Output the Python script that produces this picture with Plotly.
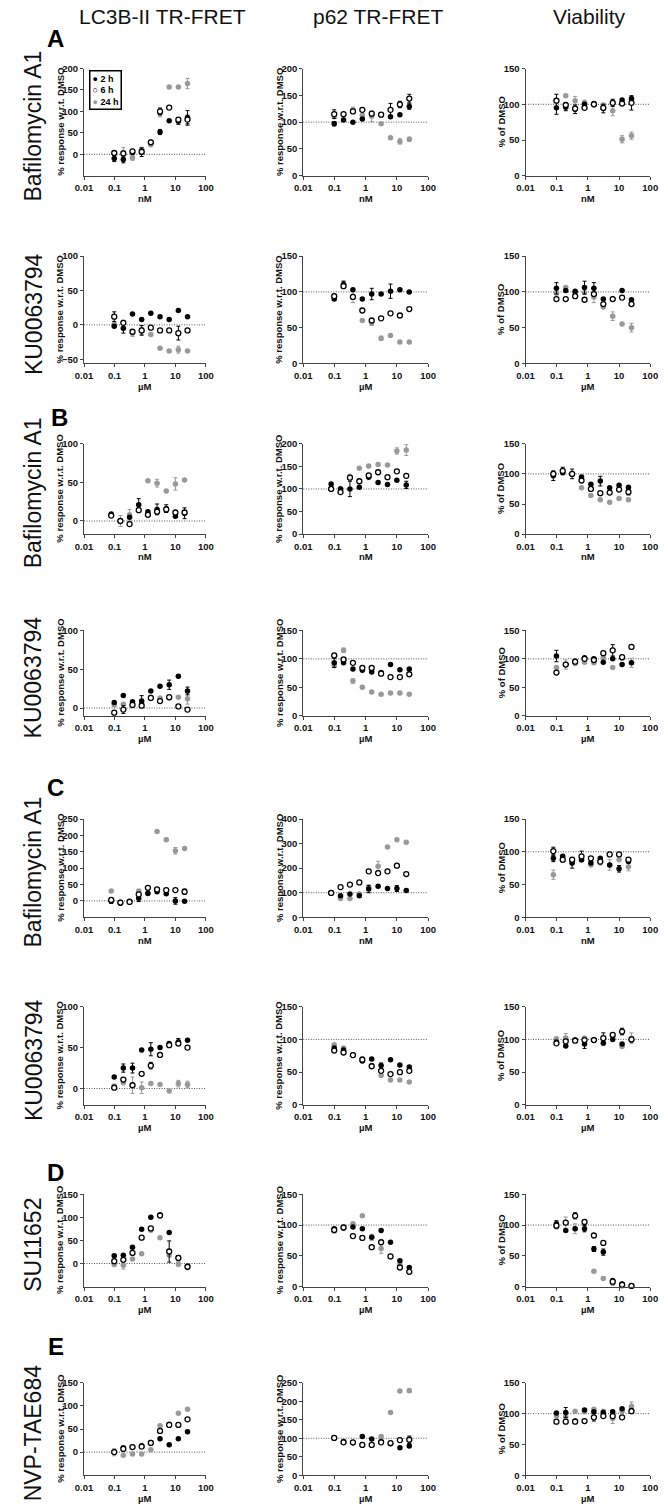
import plotly.graph_objects as go

W, H = 668, 1507

# ---------------- data ----------------
conc_baf_A = [0.098, 0.195, 0.39, 0.78, 1.56, 3.125, 6.25, 12.5, 25]
conc_baf_BC = [0.078, 0.156, 0.3125, 0.625, 1.25, 2.5, 5, 10, 20]
conc_um = [0.098, 0.195, 0.39, 0.78, 1.56, 3.125, 6.25, 12.5, 25]

x_ticks = [0.01, 0.1, 1, 10, 100]
x_tick_labels = ["0.01", "0.1", "1", "10", "100"]

column_titles = ["LC3B-II TR-FRET", "p62 TR-FRET", "Viability"]
row_compounds = ["Bafilomycin A1", "KU0063794", "Bafilomycin A1", "KU0063794",
                 "Bafilomycin A1", "KU0063794", "SU11652", "NVP-TAE684"]
row_units = ["nM", "µM", "nM", "µM", "nM", "µM", "µM", "µM"]
panel_letters = ["A", "B", "C", "D", "E"]
series_names = ["2 h", "6 h", "24 h"]

# Row A - Bafilomycin A1
A_baf_lc3_2h = [-10, -12, 4, 5, 28, 52, 78, 77, 85]
A_baf_lc3_6h = [3, 2, 7, 6, 28, 100, 109, 81, 81]
A_baf_lc3_24h = [3, 4, -8, 12, 22, 95, 157, 157, 165]
A_baf_lc3_2h_err = [7, 8, 0, 10, 0, 6, 0, 7, 17]
A_baf_lc3_6h_err = [0, 0, 0, 0, 0, 8, 0, 0, 10]
A_baf_lc3_24h_err = [0, 12, 6, 0, 0, 8, 0, 0, 12]
A_baf_p62_2h = [97, 104, 100, 106, 115, 114, 110, 114, 129]
A_baf_p62_6h = [115, 115, 120, 123, 116, 114, 123, 133, 144]
A_baf_p62_24h = [110, 113, 123, 113, 111, 97, 71, 64, 68]
A_baf_p62_2h_err = [4, 0, 0, 0, 0, 0, 0, 0, 5]
A_baf_p62_6h_err = [8, 0, 0, 0, 0, 0, 12, 6, 8]
A_baf_p62_24h_err = [0, 0, 5, 0, 10, 0, 0, 5, 4]
A_baf_via_2h = [95, 96, 93, 100, 101, 94, 102, 106, 108]
A_baf_via_6h = [105, 99, 94, 95, 100, 95, 102, 101, 102]
A_baf_via_24h = [105, 112, 105, 103, 99, 99, 91, 51, 56]
A_baf_via_2h_err = [9, 5, 6, 0, 0, 6, 5, 0, 0]
A_baf_via_6h_err = [9, 0, 0, 0, 0, 0, 0, 0, 10]
A_baf_via_24h_err = [0, 0, 6, 0, 0, 0, 7, 5, 5]

# Row A - KU0063794
A_ku_lc3_2h = [-2, -5, 16, 8, 17, 12, 8, 21, 12]
A_ku_lc3_6h = [12, 3, -10, -8, -4, -8, -8, -12, -8]
A_ku_lc3_24h = [1, 4, -12, -9, -14, -34, -38, -36, -38]
A_ku_lc3_2h_err = [0, 7, 0, 0, 0, 0, 0, 0, 0]
A_ku_lc3_6h_err = [7, 0, 0, 7, 0, 0, 0, 10, 0]
A_ku_lc3_24h_err = [0, 0, 5, 5, 0, 0, 0, 5, 0]
A_ku_p62_2h = [90, 110, 103, 90, 97, 97, 101, 103, 100]
A_ku_p62_6h = [94, 108, 93, 74, 60, 63, 70, 67, 76]
A_ku_p62_24h = [94, 112, 93, 60, 57, 35, 39, 30, 30]
A_ku_p62_2h_err = [0, 5, 0, 0, 8, 0, 10, 0, 0]
A_ku_p62_6h_err = [0, 0, 0, 0, 0, 0, 0, 0, 0]
A_ku_p62_24h_err = [0, 0, 8, 0, 4, 3, 0, 0, 0]
A_ku_via_2h = [105, 102, 101, 106, 105, 90, 90, 102, 89]
A_ku_via_6h = [90, 90, 94, 89, 97, 83, 90, 92, 83]
A_ku_via_24h = [98, 106, 99, 99, 93, 79, 66, 55, 50]
A_ku_via_2h_err = [8, 0, 0, 9, 8, 0, 0, 0, 0]
A_ku_via_6h_err = [0, 0, 0, 0, 0, 0, 0, 0, 0]
A_ku_via_24h_err = [0, 0, 0, 0, 8, 0, 6, 0, 6]

# Row B - Bafilomycin A1
B_baf_lc3_2h = [9, 0, 5, 21, 12, 15, 16, 6, 10]
B_baf_lc3_6h = [7, 0, -4, 14, 8, 12, 15, 11, 11]
B_baf_lc3_24h = [8, 0, 8, 15, 52, 49, 39, 48, 53]
B_baf_lc3_2h_err = [0, 0, 0, 8, 0, 7, 5, 0, 7]
B_baf_lc3_6h_err = [0, 0, 0, 0, 0, 0, 0, 0, 0]
B_baf_lc3_24h_err = [0, 7, 7, 0, 0, 5, 0, 8, 0]
B_baf_p62_2h = [111, 100, 100, 104, 126, 114, 110, 119, 109]
B_baf_p62_6h = [100, 93, 125, 117, 130, 137, 126, 139, 129]
B_baf_p62_24h = [100, 101, 128, 146, 151, 154, 153, 184, 186]
B_baf_p62_2h_err = [0, 0, 17, 0, 0, 0, 0, 0, 8]
B_baf_p62_6h_err = [0, 0, 0, 0, 0, 0, 0, 0, 0]
B_baf_p62_24h_err = [0, 0, 0, 0, 0, 0, 0, 7, 12]
B_baf_via_2h = [97, 103, 100, 95, 83, 88, 77, 81, 78]
B_baf_via_6h = [100, 105, 100, 89, 75, 68, 69, 74, 70]
B_baf_via_24h = [101, 101, 99, 77, 64, 57, 53, 59, 57]
B_baf_via_2h_err = [8, 0, 8, 0, 0, 8, 0, 0, 0]
B_baf_via_6h_err = [0, 6, 0, 0, 0, 0, 0, 0, 5]
B_baf_via_24h_err = [0, 0, 0, 0, 0, 0, 0, 0, 0]

# Row B - KU0063794
B_ku_lc3_2h = [7, 16, 8, 9, 22, 28, 30, 41, 22]
B_ku_lc3_6h = [-6, -2, 4, 3, 13, 9, 14, 2, -2]
B_ku_lc3_24h = [4, 5, 5, 6, 14, 13, 13, 14, 12]
B_ku_lc3_2h_err = [0, 0, 0, 7, 0, 0, 6, 0, 5]
B_ku_lc3_6h_err = [0, 5, 0, 0, 0, 0, 0, 0, 0]
B_ku_lc3_24h_err = [0, 0, 0, 0, 0, 0, 0, 0, 7]
B_ku_p62_2h = [93, 93, 82, 80, 77, 76, 90, 81, 82]
B_ku_p62_6h = [106, 99, 93, 84, 84, 74, 68, 68, 73]
B_ku_p62_24h = [88, 115, 61, 50, 42, 38, 40, 40, 38]
B_ku_p62_2h_err = [8, 0, 0, 0, 0, 0, 0, 0, 0]
B_ku_p62_6h_err = [0, 0, 0, 0, 0, 0, 0, 0, 0]
B_ku_p62_24h_err = [0, 4, 4, 0, 0, 0, 0, 0, 0]
B_ku_via_2h = [105, 90, 96, 102, 100, 94, 100, 90, 93]
B_ku_via_6h = [76, 90, 95, 100, 98, 110, 115, 103, 121]
B_ku_via_24h = [85, 90, 92, 94, 93, 102, 85, 101, 93]
B_ku_via_2h_err = [10, 0, 0, 0, 0, 0, 0, 0, 0]
B_ku_via_6h_err = [0, 0, 0, 0, 0, 0, 10, 0, 0]
B_ku_via_24h_err = [0, 8, 0, 0, 0, 0, 0, 0, 8]

# Row C - Bafilomycin A1
C_baf_lc3_2h = [0, -7, -2, 8, 23, 28, 22, 0, -1]
C_baf_lc3_6h = [3, -5, -3, 20, 40, 35, 33, 33, 28]
C_baf_lc3_24h = [30, -3, 0, 30, 25, 212, 187, 153, 160]
C_baf_lc3_2h_err = [8, 0, 0, 10, 0, 0, 0, 10, 0]
C_baf_lc3_6h_err = [0, 0, 0, 0, 0, 0, 0, 0, 8]
C_baf_lc3_24h_err = [0, 0, 0, 0, 0, 0, 5, 10, 0]
C_baf_p62_2h = [99, 88, 95, 88, 115, 126, 117, 117, 109]
C_baf_p62_6h = [99, 123, 133, 142, 187, 180, 187, 210, 176]
C_baf_p62_24h = [101, 76, 76, 95, 123, 208, 286, 316, 305]
C_baf_p62_2h_err = [0, 0, 0, 0, 15, 0, 0, 12, 0]
C_baf_p62_6h_err = [0, 0, 0, 0, 0, 8, 0, 0, 0]
C_baf_p62_24h_err = [0, 0, 0, 0, 0, 20, 0, 0, 0]
C_baf_via_2h = [90, 93, 83, 88, 83, 90, 80, 74, 85]
C_baf_via_6h = [101, 88, 88, 93, 90, 85, 96, 96, 88]
C_baf_via_24h = [65, 87, 83, 88, 80, 83, 80, 88, 77]
C_baf_via_2h_err = [5, 0, 8, 0, 0, 0, 0, 5, 0]
C_baf_via_6h_err = [6, 0, 0, 8, 0, 0, 0, 0, 0]
C_baf_via_24h_err = [7, 0, 0, 0, 0, 0, 8, 0, 6]

# Row C - KU0063794
C_ku_lc3_2h = [14, 25, 25, 47, 48, 50, 55, 57, 59]
C_ku_lc3_6h = [1, 11, 4, 18, 28, 41, 53, 55, 50]
C_ku_lc3_24h = [3, 7, 4, 1, 6, 5, -3, 6, 5]
C_ku_lc3_2h_err = [0, 5, 6, 0, 8, 0, 0, 4, 0]
C_ku_lc3_6h_err = [0, 0, 0, 0, 4, 0, 0, 0, 0]
C_ku_lc3_24h_err = [0, 0, 10, 7, 0, 0, 0, 4, 4]
C_ku_p62_2h = [87, 84, 76, 67, 70, 60, 69, 61, 58]
C_ku_p62_6h = [83, 80, 76, 69, 59, 52, 47, 50, 52]
C_ku_p62_24h = [92, 87, 76, 71, 60, 45, 38, 38, 35]
C_ku_p62_2h_err = [0, 0, 0, 0, 0, 4, 0, 0, 0]
C_ku_p62_6h_err = [0, 0, 0, 0, 0, 0, 0, 0, 0]
C_ku_p62_24h_err = [0, 0, 0, 0, 0, 0, 0, 0, 0]
C_ku_via_2h = [96, 90, 99, 93, 99, 94, 100, 93, 99]
C_ku_via_6h = [94, 97, 98, 99, 99, 102, 107, 112, 100]
C_ku_via_24h = [101, 102, 99, 102, 100, 99, 104, 89, 102]
C_ku_via_2h_err = [0, 0, 0, 7, 0, 0, 0, 0, 0]
C_ku_via_6h_err = [0, 0, 0, 0, 0, 8, 0, 5, 0]
C_ku_via_24h_err = [0, 7, 0, 0, 0, 0, 0, 0, 8]

# Row D - SU11652
D_su_lc3_2h = [17, 18, 35, 74, 100, 105, 67, 13, -6]
D_su_lc3_6h = [5, 8, 23, 56, 76, 104, 26, 12, -7]
D_su_lc3_24h = [-2, -4, 10, 21, 72, 56, 18, -1, -9]
D_su_lc3_2h_err = [0, 0, 0, 0, 0, 0, 0, 3, 0]
D_su_lc3_6h_err = [0, 0, 0, 0, 0, 0, 23, 0, 0]
D_su_lc3_24h_err = [0, 8, 0, 0, 0, 0, 0, 5, 0]
D_su_p62_2h = [94, 95, 97, 94, 80, 91, 72, 42, 31]
D_su_p62_6h = [92, 96, 82, 79, 64, 72, 49, 31, 24]
D_su_p62_24h = [90, 97, 102, 115, 80, 62, 49, 36, 24]
D_su_p62_2h_err = [0, 0, 0, 0, 0, 0, 0, 0, 0]
D_su_p62_6h_err = [0, 0, 0, 0, 0, 0, 0, 0, 0]
D_su_p62_24h_err = [0, 0, 0, 0, 5, 8, 0, 0, 0]
D_su_via_2h = [102, 91, 94, 94, 61, 56, 10, 4, 1]
D_su_via_6h = [99, 104, 115, 105, 83, 71, 8, 3, 1]
D_su_via_24h = [97, 103, 94, 102, 25, 13, 5, 1, 1]
D_su_via_2h_err = [5, 0, 0, 5, 4, 5, 0, 0, 0]
D_su_via_6h_err = [0, 0, 5, 0, 0, 0, 0, 0, 0]
D_su_via_24h_err = [0, 10, 8, 0, 0, 0, 0, 0, 0]

# Row E - NVP-TAE684
E_nvp_lc3_2h = [0, 9, 11, 14, 21, 29, 16, 29, 44]
E_nvp_lc3_6h = [0, 7, 11, 12, 20, 46, 59, 59, 71]
E_nvp_lc3_24h = [0, -7, -4, -4, 5, 57, 61, 84, 93]
E_nvp_lc3_2h_err = [0, 4, 0, 0, 0, 0, 0, 0, 0]
E_nvp_lc3_6h_err = [0, 0, 0, 0, 0, 0, 0, 0, 0]
E_nvp_lc3_24h_err = [8, 0, 0, 0, 0, 0, 0, 0, 0]
E_nvp_p62_2h = [101, 91, 88, 105, 98, 91, 85, 74, 79]
E_nvp_p62_6h = [101, 89, 89, 82, 82, 89, 87, 95, 96]
E_nvp_p62_24h = [101, 89, 88, 83, 82, 105, 170, 228, 229]
E_nvp_p62_2h_err = [0, 0, 0, 0, 0, 0, 0, 0, 0]
E_nvp_p62_6h_err = [0, 0, 0, 0, 0, 0, 0, 0, 10]
E_nvp_p62_24h_err = [0, 0, 0, 0, 0, 0, 0, 4, 5]
E_nvp_via_2h = [101, 102, 88, 106, 103, 102, 103, 108, 105]
E_nvp_via_6h = [87, 87, 87, 88, 94, 96, 96, 94, 104]
E_nvp_via_24h = [96, 95, 104, 103, 107, 104, 92, 104, 112]
E_nvp_via_2h_err = [0, 8, 0, 0, 0, 0, 0, 0, 0]
E_nvp_via_6h_err = [0, 0, 0, 0, 6, 0, 0, 0, 0]
E_nvp_via_24h_err = [0, 8, 0, 0, 0, 0, 8, 0, 7]

# y-axis ranges / ticks per row (LC3B, p62, viability)
lc3_ranges = [[-50, 200], [-56, 100], [-17, 100], [-10, 100], [-50, 250], [-20, 100], [-50, 150], [-50, 150]]
lc3_ticks = [[0, 50, 100, 150, 200], [-50, 0, 50, 100], [0, 50, 100], [0, 50, 100],
             [0, 50, 100, 150, 200, 250], [0, 50, 100], [0, 50, 100, 150], [0, 50, 100, 150]]
p62_ranges = [[0, 200], [0, 150], [0, 200], [0, 150], [0, 400], [0, 150], [0, 150], [0, 250]]
p62_ticks = [[0, 50, 100, 150, 200], [0, 50, 100, 150], [0, 50, 100, 150, 200], [0, 50, 100, 150],
             [0, 100, 200, 300, 400], [0, 50, 100, 150], [0, 50, 100, 150], [0, 50, 100, 150, 200, 250]]
via_range = [0, 150]
via_ticks = [0, 50, 100, 150]

row_conc = [conc_baf_A, conc_um, conc_baf_BC, conc_um, conc_baf_BC, conc_um, conc_um, conc_um]

row_series = [
    [[A_baf_lc3_2h, A_baf_lc3_6h, A_baf_lc3_24h], [A_baf_p62_2h, A_baf_p62_6h, A_baf_p62_24h], [A_baf_via_2h, A_baf_via_6h, A_baf_via_24h]],
    [[A_ku_lc3_2h, A_ku_lc3_6h, A_ku_lc3_24h], [A_ku_p62_2h, A_ku_p62_6h, A_ku_p62_24h], [A_ku_via_2h, A_ku_via_6h, A_ku_via_24h]],
    [[B_baf_lc3_2h, B_baf_lc3_6h, B_baf_lc3_24h], [B_baf_p62_2h, B_baf_p62_6h, B_baf_p62_24h], [B_baf_via_2h, B_baf_via_6h, B_baf_via_24h]],
    [[B_ku_lc3_2h, B_ku_lc3_6h, B_ku_lc3_24h], [B_ku_p62_2h, B_ku_p62_6h, B_ku_p62_24h], [B_ku_via_2h, B_ku_via_6h, B_ku_via_24h]],
    [[C_baf_lc3_2h, C_baf_lc3_6h, C_baf_lc3_24h], [C_baf_p62_2h, C_baf_p62_6h, C_baf_p62_24h], [C_baf_via_2h, C_baf_via_6h, C_baf_via_24h]],
    [[C_ku_lc3_2h, C_ku_lc3_6h, C_ku_lc3_24h], [C_ku_p62_2h, C_ku_p62_6h, C_ku_p62_24h], [C_ku_via_2h, C_ku_via_6h, C_ku_via_24h]],
    [[D_su_lc3_2h, D_su_lc3_6h, D_su_lc3_24h], [D_su_p62_2h, D_su_p62_6h, D_su_p62_24h], [D_su_via_2h, D_su_via_6h, D_su_via_24h]],
    [[E_nvp_lc3_2h, E_nvp_lc3_6h, E_nvp_lc3_24h], [E_nvp_p62_2h, E_nvp_p62_6h, E_nvp_p62_24h], [E_nvp_via_2h, E_nvp_via_6h, E_nvp_via_24h]],
]
row_errors = [
    [[A_baf_lc3_2h_err, A_baf_lc3_6h_err, A_baf_lc3_24h_err], [A_baf_p62_2h_err, A_baf_p62_6h_err, A_baf_p62_24h_err], [A_baf_via_2h_err, A_baf_via_6h_err, A_baf_via_24h_err]],
    [[A_ku_lc3_2h_err, A_ku_lc3_6h_err, A_ku_lc3_24h_err], [A_ku_p62_2h_err, A_ku_p62_6h_err, A_ku_p62_24h_err], [A_ku_via_2h_err, A_ku_via_6h_err, A_ku_via_24h_err]],
    [[B_baf_lc3_2h_err, B_baf_lc3_6h_err, B_baf_lc3_24h_err], [B_baf_p62_2h_err, B_baf_p62_6h_err, B_baf_p62_24h_err], [B_baf_via_2h_err, B_baf_via_6h_err, B_baf_via_24h_err]],
    [[B_ku_lc3_2h_err, B_ku_lc3_6h_err, B_ku_lc3_24h_err], [B_ku_p62_2h_err, B_ku_p62_6h_err, B_ku_p62_24h_err], [B_ku_via_2h_err, B_ku_via_6h_err, B_ku_via_24h_err]],
    [[C_baf_lc3_2h_err, C_baf_lc3_6h_err, C_baf_lc3_24h_err], [C_baf_p62_2h_err, C_baf_p62_6h_err, C_baf_p62_24h_err], [C_baf_via_2h_err, C_baf_via_6h_err, C_baf_via_24h_err]],
    [[C_ku_lc3_2h_err, C_ku_lc3_6h_err, C_ku_lc3_24h_err], [C_ku_p62_2h_err, C_ku_p62_6h_err, C_ku_p62_24h_err], [C_ku_via_2h_err, C_ku_via_6h_err, C_ku_via_24h_err]],
    [[D_su_lc3_2h_err, D_su_lc3_6h_err, D_su_lc3_24h_err], [D_su_p62_2h_err, D_su_p62_6h_err, D_su_p62_24h_err], [D_su_via_2h_err, D_su_via_6h_err, D_su_via_24h_err]],
    [[E_nvp_lc3_2h_err, E_nvp_lc3_6h_err, E_nvp_lc3_24h_err], [E_nvp_p62_2h_err, E_nvp_p62_6h_err, E_nvp_p62_24h_err], [E_nvp_via_2h_err, E_nvp_via_6h_err, E_nvp_via_24h_err]],
]

# ---------------- layout geometry (px) ----------------
col_x = [(77, 202), (302, 430), (530, 658)]
row_y = [(63, 171), (252, 360), (441, 532), (629, 715), (819, 918), (1008, 1107), (1197, 1290), (1387, 1480)]
ref_lines = [0, 100, 100]
y_titles = ["% response w.r.t. DMSO", "% response w.r.t. DMSO", "% of DMSO"]

TICK_FONT = dict(family="Liberation Sans Narrow, Liberation Sans, Arial", size=9.5, color="#111", weight="bold")
LABEL_FONT = dict(family="Liberation Sans, Arial", size=9.5, color="#111", weight="bold")
AX_COLOR = "#444"

styles = [
    dict(color="#000000", line=dict(color="#000000", width=0), size=5.5),    # 2 h
    dict(color="#ffffff", line=dict(color="#000000", width=1.3), size=5),    # 6 h
    dict(color="#999999", line=dict(color="#999999", width=0), size=5.5),    # 24 h
]
err_colors = ["#000000", "#000000", "#999999"]
draw_order = [2, 0, 1]

fig = go.Figure()
shapes = []
annotations = []

for r in range(8):
    y0, y1 = row_y[r]
    for c in range(3):
        idx = r * 3 + c + 1
        sfx = "" if idx == 1 else str(idx)
        x0, x1 = col_x[c]
        if c == 0:
            yr, yt = lc3_ranges[r], lc3_ticks[r]
        elif c == 1:
            yr, yt = p62_ranges[r], p62_ticks[r]
        else:
            yr, yt = via_range, via_ticks
        fig.layout["xaxis" + sfx] = dict(
            type="log", domain=[x0 / W, x1 / W], range=[-2, 2], anchor="y" + sfx,
            tickvals=x_ticks, ticktext=x_tick_labels, ticks="outside", ticklen=3,
            tickwidth=1, tickcolor=AX_COLOR, showline=True, linecolor=AX_COLOR, linewidth=1,
            showgrid=False, zeroline=False, tickfont=TICK_FONT, fixedrange=True)
        fig.layout["yaxis" + sfx] = dict(
            domain=[1 - y1 / H, 1 - y0 / H], range=yr, anchor="x" + sfx,
            tickvals=yt, ticks="outside", ticklen=3, tickwidth=1, tickcolor=AX_COLOR,
            showline=True, linecolor=AX_COLOR, linewidth=1, showgrid=False,
            zeroline=False, tickfont=TICK_FONT, fixedrange=True)
        # dotted reference line
        shapes.append(dict(type="line", xref="x" + sfx + " domain", x0=0, x1=1,
                           yref="y" + sfx, y0=ref_lines[c], y1=ref_lines[c],
                           line=dict(color="#555", width=1, dash="1px,1.5px"), layer="below"))
        for s in draw_order:
            fig.add_trace(go.Scatter(
                x=row_conc[r], y=row_series[r][c][s], mode="markers",
                name=series_names[s], showlegend=False, hoverinfo="skip",
                marker=dict(symbol="circle", **styles[s]),
                error_y=dict(type="data", array=row_errors[r][c][s], visible=True,
                             color=err_colors[s], thickness=1, width=2),
                cliponaxis=False, xaxis="x" + sfx, yaxis="y" + sfx))
        # axis titles
        annotations.append(dict(text=y_titles[c], x=(x0 - 25) / W, y=1 - ((y0 + y1) / 2) / H,
                                xref="paper", yref="paper", textangle=-90, showarrow=False,
                                font=LABEL_FONT, xanchor="center", yanchor="middle"))
        annotations.append(dict(text=row_units[r], x=((x0 + x1) / 2) / W, y=1 - (y1 + 23) / H,
                                xref="paper", yref="paper", showarrow=False,
                                font=LABEL_FONT, xanchor="center", yanchor="middle"))
    # row compound label
    annotations.append(dict(text=row_compounds[r], x=25 / W, y=1 - ((y0 + y1) / 2 + 4) / H,
                            xref="paper", yref="paper", textangle=-90, showarrow=False,
                            font=dict(family="Liberation Sans, Arial", size=23, color="#111"),
                            xanchor="center", yanchor="middle"))

# column titles
for c, t in enumerate(column_titles):
    cx = [157, 379, 595][c]
    annotations.append(dict(text=t, x=cx / W, y=1 - 11 / H, xref="paper", yref="paper",
                            showarrow=False, xanchor="center", yanchor="middle",
                            font=dict(family="Liberation Sans, Arial", size=21, color="#111")))

# panel letters
letter_pos = [(48, 33), (52, 415), (48, 787), (48, 1175), (48, 1350)]
for L, (lx, ly) in zip(panel_letters, letter_pos):
    annotations.append(dict(text=L, x=lx / W, y=1 - ly / H, xref="paper", yref="paper",
                            showarrow=False, xanchor="center", yanchor="middle",
                            font=dict(family="Liberation Sans, Arial", size=24, color="#000", weight="bold")))

# legend box (first panel)
legend_text = ("●&nbsp;2 h<br>"
               "○&nbsp;6 h<br>"
               "<span style='color:#999999'>●</span>&nbsp;24 h")
annotations.append(dict(text=legend_text, x=82 / W, y=1 - 64 / H, xref="paper", yref="paper",
                        showarrow=False, xanchor="left", yanchor="top", align="left",
                        bordercolor="#000", borderwidth=1.5, borderpad=2, bgcolor="#fff",
                        font=dict(family="Liberation Sans Narrow, Liberation Sans, Arial", size=9, color="#000", weight="bold")))

fig.update_layout(width=W, height=H, margin=dict(l=0, r=0, t=0, b=0),
                  paper_bgcolor="white", plot_bgcolor="white", showlegend=False,
                  shapes=shapes, annotations=annotations)

fig.write_html("out.html", config={"displayModeBar": False, "staticPlot": True},
               post_script="document.body.style.margin='0';document.body.style.overflow='hidden';")
